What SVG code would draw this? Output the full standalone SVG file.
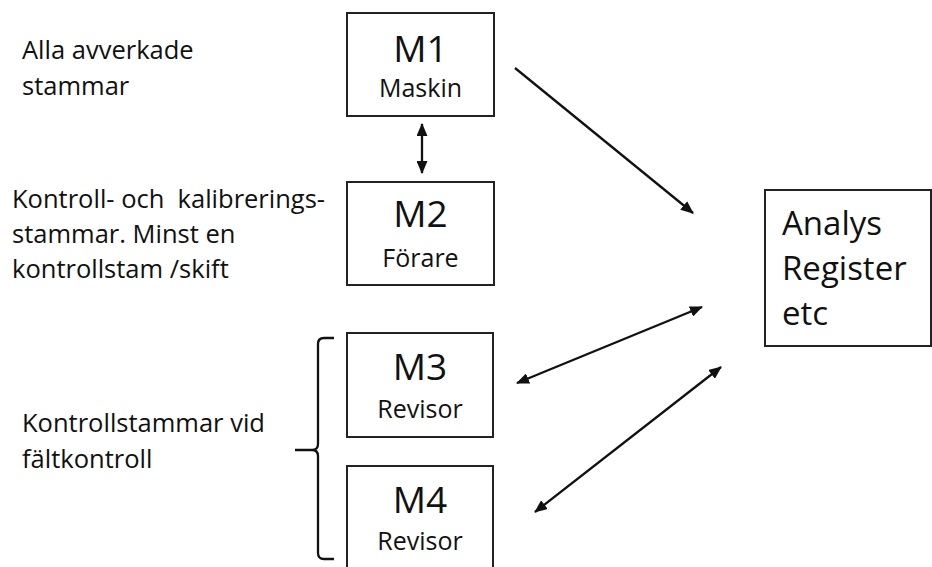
<svg xmlns="http://www.w3.org/2000/svg" width="932" height="567" viewBox="0 0 932 567">
<defs>
<marker id="ah" viewBox="0 0 13 11" refX="12" refY="5.5" markerWidth="13" markerHeight="11" markerUnits="userSpaceOnUse" orient="auto-start-reverse">
<path d="M0,0 L13,5.5 L0,11 z" fill="#111"/>
</marker>
<style>
.box{fill:#fff;stroke:#222;stroke-width:2}
.t{font-family:"Open Sans","Noto Sans",sans-serif;fill:#111}
.big{font-size:37px}
.sub{font-size:25px}
.lbl{font-size:25.5px}
.an{font-size:33px}
.c{stroke:#111;stroke-width:2.3;fill:none}
</style>
</defs>
<rect width="932" height="567" fill="#fff"/>
<g id="labels" class="t lbl">
<text x="22" y="59">Alla avverkade</text>
<text x="22" y="95">stammar</text>
<text x="12" y="208" xml:space="preserve">Kontroll- och  kalibrerings-</text>
<text x="12" y="243">stammar. Minst en</text>
<text x="12" y="278">kontrollstam /skift</text>
<text x="22" y="432">Kontrollstammar vid</text>
<text x="22" y="468">fältkontroll</text>
</g>
<g id="M1">
<rect class="box" x="347" y="13" width="147" height="103"/>
<text class="t big" x="420.5" y="62" text-anchor="middle">M1</text>
<text class="t sub" x="420.5" y="97" text-anchor="middle">Maskin</text>
</g>
<g id="M2">
<rect class="box" x="347" y="182" width="147" height="103"/>
<text class="t big" x="420.5" y="227" text-anchor="middle">M2</text>
<text class="t sub" x="420.5" y="267" text-anchor="middle">Förare</text>
</g>
<g id="M3">
<rect class="box" x="347" y="333" width="146" height="104"/>
<text class="t big" x="420" y="380" text-anchor="middle">M3</text>
<text class="t sub" x="420" y="418" text-anchor="middle">Revisor</text>
</g>
<g id="M4">
<rect class="box" x="347" y="466" width="146" height="106"/>
<text class="t big" x="420" y="513" text-anchor="middle">M4</text>
<text class="t sub" x="420" y="550" text-anchor="middle">Revisor</text>
</g>
<g id="analys">
<rect class="box" x="765" y="190" width="166" height="156"/>
<text class="t an" x="782" y="235">Analys</text>
<text class="t an" x="782" y="280">Register</text>
<text class="t an" x="782" y="325">etc</text>
</g>
<g id="brace">
<path class="c" d="M334,338 L324,338 Q318,338 318,344 L318,444 Q318,450 312,450 L295,450 M312,450 Q318,450 318,456 L318,553 Q318,559 324,559 L334,559"/>
</g>
<g id="connectors">
<line class="c" x1="422" y1="124" x2="422" y2="173" marker-start="url(#ah)" marker-end="url(#ah)"/>
<line class="c" x1="515" y1="68" x2="693" y2="213" marker-end="url(#ah)"/>
<line class="c" x1="517" y1="383" x2="702" y2="307" marker-start="url(#ah)" marker-end="url(#ah)"/>
<line class="c" x1="535" y1="512" x2="721" y2="367" marker-start="url(#ah)" marker-end="url(#ah)"/>
</g>
</svg>
